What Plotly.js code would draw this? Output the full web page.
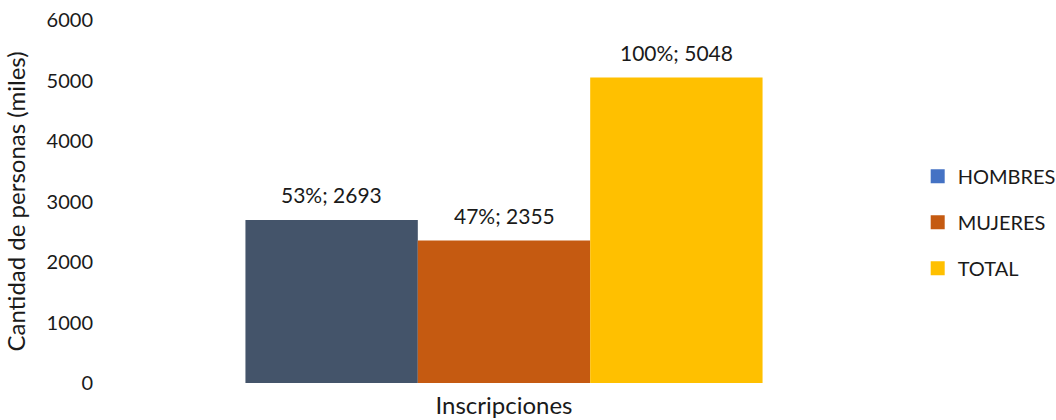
<!DOCTYPE html>
<html>
<head>
<meta charset="utf-8">
<script src="https://cdn.plot.ly/plotly-3.0.1.min.js"></script>
<style>html,body{margin:0;padding:0;background:#fff;}#chart{width:1056px;height:420px;}</style>
</head>
<body>
<div id="chart"></div>
<script>
const categories = ['Inscripciones'];
const seriesNames = ['HOMBRES', 'MUJERES', 'TOTAL'];
const seriesValues = [[2693], [2355], [5048]];
const seriesPercents = ['53%', '47%', '100%'];
const barColors = ['#44546A', '#C55A11', '#FFC000'];
const legendColors = ['#4472C4', '#C55A11', '#FFC000'];
const yTicks = [0, 1000, 2000, 3000, 4000, 5000, 6000];

const font = 'Lato, "Open Sans", sans-serif';
const textColor = '#1a1a1a';
const bargap = 0.36;
const nSeries = seriesNames.length;
const barW = (1 - bargap) / nSeries;

const traces = [];
const annotations = [];
seriesNames.forEach((name, i) => {
  traces.push({
    type: 'bar',
    name: name,
    x: categories,
    y: seriesValues[i],
    marker: {color: barColors[i]},
    showlegend: false,
    hoverinfo: 'none'
  });
  categories.forEach((c, k) => {
    annotations.push({
      x: k + (i - (nSeries - 1) / 2) * barW,
      y: seriesValues[i][k],
      xref: 'x', yref: 'y',
      text: seriesPercents[i] + '; ' + seriesValues[i][k],
      showarrow: false,
      yanchor: 'bottom',
      yshift: 11,
      font: {family: font, size: 21, color: textColor}
    });
  });
});
seriesNames.forEach((name, i) => {
  traces.push({
    type: 'scatter',
    mode: 'markers',
    name: name,
    x: categories,
    y: [null],
    marker: {color: legendColors[i], symbol: 'square', size: 14},
    legendgroup: 'g' + i,
    showlegend: true,
    hoverinfo: 'none'
  });
});

const layout = {
  width: 1056, height: 420,
  margin: {l: 100, r: 148, t: 20, b: 37, autoexpand: false},
  paper_bgcolor: '#fff', plot_bgcolor: '#fff',
  barmode: 'group',
  bargap: bargap,
  bargroupgap: 0,
  showlegend: true,
  annotations: annotations,
  legend: {
    x: 1.012, xanchor: 'left', y: 0.443, yanchor: 'middle',
    font: {family: font, size: 20, color: textColor},
    tracegroupgap: 17,
    itemwidth: 30,
    traceorder: 'grouped'
  },
  xaxis: {
    type: 'category',
    showgrid: false, zeroline: false, showline: false,
    showticklabels: false,
    title: {text: categories[0], font: {family: font, size: 24, color: textColor}, standoff: 14}
  },
  yaxis: {
    range: [0, 6000],
    tickvals: yTicks,
    ticktext: yTicks.map(String),
    showgrid: false, zeroline: false, showline: false,
    tickfont: {family: font, size: 20, color: textColor},
    ticks: '', ticklen: 0,
    ticklabelstandoff: 6,
    title: {text: 'Cantidad de personas (miles)', font: {family: font, size: 24, color: textColor}, standoff: 14}
  }
};

Plotly.newPlot('chart', traces, layout, {displayModeBar: false, staticPlot: true});
</script>
</body>
</html>
